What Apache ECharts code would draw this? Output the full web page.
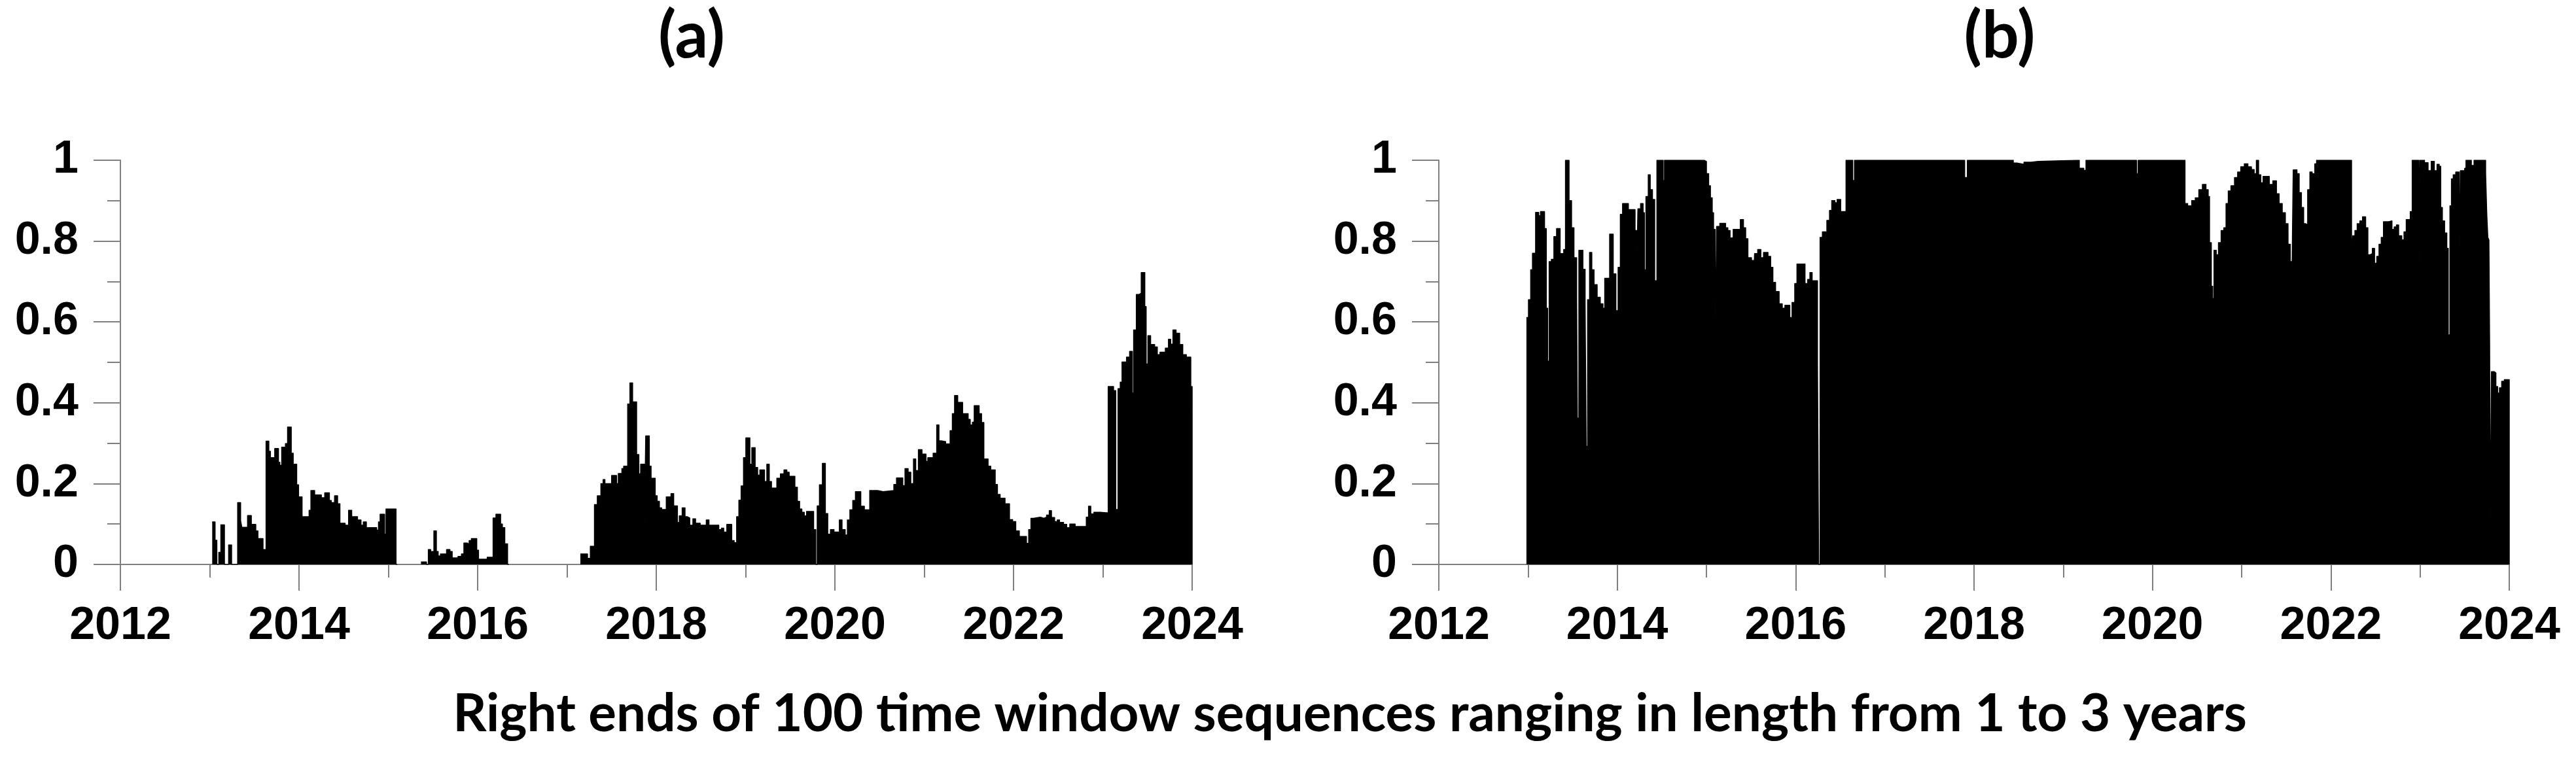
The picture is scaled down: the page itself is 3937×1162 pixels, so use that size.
<!DOCTYPE html>
<html>
<head>
<meta charset="utf-8">
<title>Right ends of time window sequences</title>
<script src="https://cdn.jsdelivr.net/npm/echarts@6/dist/echarts.min.js"></script>
<style>
  html, body { margin: 0; padding: 0; background: #fff; }
  #main { width: 3937px; height: 1162px; }
</style>
</head>
<body>
<div id="main"></div>
<script>
var yearTicks = [2012, 2014, 2016, 2018, 2020, 2022, 2024];
var panelTitles = ['(a)', '(b)'];
var xAxisName = 'Right ends of 100 time window sequences ranging in length from 1 to 3 years';

// panel (a): each value holds from its year up to the next year (null = no data)
var aYears = [
  2013.028, 2013.060, 2013.080, 2013.102, 2013.125, 2013.165, 2013.212, 2013.245, 2013.313, 2013.346,
  2013.360, 2013.424, 2013.466, 2013.516, 2013.540, 2013.597, 2013.631, 2013.662, 2013.680, 2013.728,
  2013.770, 2013.785, 2013.806, 2013.848, 2013.872, 2013.913, 2013.935, 2013.974, 2013.995, 2014.034,
  2014.113, 2014.133, 2014.175, 2014.250, 2014.288, 2014.340, 2014.361, 2014.398, 2014.432, 2014.458,
  2014.516, 2014.555, 2014.590, 2014.655, 2014.694, 2014.720, 2014.754, 2014.869, 2014.890, 2014.908,
  2014.958, 2014.974, 2015.086, 2015.100,
  2015.366, 2015.427, 2015.448, 2015.474, 2015.510, 2015.538, 2015.558, 2015.584, 2015.652, 2015.690,
  2015.715, 2015.780, 2015.819, 2015.846, 2015.885, 2015.905, 2015.930, 2015.990, 2016.010, 2016.107,
  2016.173, 2016.205, 2016.257, 2016.277, 2016.304, 2016.335, 2016.350,
  2017.150, 2017.230, 2017.262, 2017.308, 2017.340, 2017.380, 2017.405, 2017.425, 2017.455, 2017.500,
  2017.556, 2017.575, 2017.615, 2017.635, 2017.680, 2017.705, 2017.735, 2017.780, 2017.805, 2017.825,
  2017.868, 2017.882, 2017.922, 2017.942, 2017.988, 2018.010, 2018.035, 2018.060, 2018.112, 2018.165,
  2018.195, 2018.237, 2018.258, 2018.290, 2018.322, 2018.348, 2018.375, 2018.410, 2018.440, 2018.492,
  2018.560, 2018.590, 2018.700, 2018.730, 2018.755, 2018.790, 2018.845, 2018.872, 2018.900, 2018.925,
  2018.950, 2018.977, 2019.003, 2019.048, 2019.070, 2019.107, 2019.135, 2019.160, 2019.212, 2019.238,
  2019.265, 2019.290, 2019.350, 2019.390, 2019.430, 2019.462, 2019.488, 2019.552, 2019.580, 2019.605,
  2019.630, 2019.657, 2019.683, 2019.762, 2019.786, 2019.802, 2019.827, 2019.860, 2019.893, 2019.920,
  2019.950, 2019.990, 2020.050, 2020.080, 2020.115, 2020.140, 2020.168, 2020.200, 2020.230, 2020.290,
  2020.330, 2020.390, 2020.480, 2020.540, 2020.660, 2020.690, 2020.760, 2020.785, 2020.820, 2020.850,
  2020.880, 2020.905, 2020.935, 2020.975, 2021.020, 2021.040, 2021.100, 2021.140, 2021.165, 2021.190,
  2021.240, 2021.290, 2021.315, 2021.340, 2021.375, 2021.430, 2021.492, 2021.515, 2021.540, 2021.560,
  2021.615, 2021.642, 2021.668, 2021.715, 2021.745, 2021.795, 2021.820, 2021.850, 2021.905, 2021.955,
  2021.990, 2022.025, 2022.065, 2022.145, 2022.170, 2022.195, 2022.222, 2022.300, 2022.340, 2022.370,
  2022.400, 2022.425, 2022.460, 2022.490, 2022.515, 2022.560, 2022.595, 2022.630, 2022.690, 2022.815,
  2022.840, 2022.865, 2022.900, 2022.970, 2023.040, 2023.060, 2023.120, 2023.145, 2023.170, 2023.195,
  2023.215, 2023.265, 2023.300, 2023.330, 2023.345, 2023.375, 2023.405, 2023.430, 2023.470, 2023.485,
  2023.505, 2023.535, 2023.580, 2023.610, 2023.640, 2023.700, 2023.735, 2023.760, 2023.785, 2023.820,
  2023.860, 2023.895, 2023.935, 2023.985, 2024.000
];
var aValues = [
  0.105, 0.060, 0, 0.030, 0.098, 0, 0.048, 0, 0.153, 0.108,
  0.092, 0.121, 0.099, 0.083, 0.064, 0.037, 0.305, 0.280, 0.264, 0.287,
  0.253, 0.245, 0.290, 0.299, 0.340, 0.275, 0.248, 0.197, 0.167, 0.118,
  0.134, 0.183, 0.172, 0.165, 0.177, 0.158, 0.153, 0.170, 0.150, 0.102,
  0.097, 0.134, 0.118, 0.110, 0.097, 0.105, 0.091, 0.085, 0.105, 0.124,
  0.075, 0.137, 0, null,
  0.006, 0, 0.037, 0.032, 0.083, 0.032, 0.021, 0.026, 0.037, 0.032,
  0.016, 0.020, 0.026, 0.053, 0.050, 0.059, 0.064, 0.035, 0.013, 0.018,
  0.115, 0.124, 0.100, 0.091, 0.051, 0, null,
  0.026, 0.015, 0.045, 0.148, 0.170, 0.200, 0.210, 0.200, 0.200, 0.220,
  0.200, 0.225, 0.237, 0.243, 0.397, 0.449, 0.402, 0.272, 0.224, 0.248,
  0.086, 0.318, 0.243, 0.213, 0.170, 0.156, 0.140, 0.136, 0.167, 0.175,
  0.145, 0.104, 0.120, 0.140, 0.118, 0.115, 0.097, 0.113, 0.102, 0.097,
  0.110, 0.097, 0.086, 0.090, 0.080, 0.099, 0.059, 0.054, 0.118, 0.159,
  0.194, 0.264, 0.313, 0.248, 0.289, 0.240, 0.221, 0.234, 0.205, 0.248,
  0.205, 0.189, 0.213, 0.224, 0.234, 0.228, 0.218, 0.191, 0.156, 0.137,
  0.129, 0.120, 0.131, 0.086, 0, 0.145, 0.197, 0.250, 0.126, 0.075,
  0.086, 0.080, 0.110, 0.086, 0.073, 0.110, 0.135, 0.158, 0.180, 0.144,
  0.135, 0.183, 0.180, 0.183, 0.198, 0.214, 0.195, 0.237, 0.228, 0.200,
  0.261, 0.232, 0.284, 0.273, 0.255, 0.264, 0.275, 0.345, 0.306, 0.304,
  0.298, 0.331, 0.373, 0.418, 0.401, 0.373, 0.359, 0.345, 0.352, 0.393,
  0.373, 0.351, 0.261, 0.243, 0.234, 0.198, 0.173, 0.164, 0.150, 0.111,
  0.106, 0.083, 0.069, 0.052, 0.086, 0.114, 0.117, 0.114, 0.117, 0.122,
  0.133, 0.116, 0.106, 0.110, 0.104, 0.099, 0.091, 0.100, 0.094, 0.117,
  0.144, 0.125, 0.129, 0.128, 0.128, 0.440, 0.430, 0.136, 0.435, 0.451,
  0.501, 0.513, 0.527, 0.424, 0.580, 0.668, 0.671, 0.722, 0.638, 0.496,
  0.566, 0.544, 0.538, 0.519, 0.525, 0.535, 0.557, 0.545, 0.580, 0.572,
  0.544, 0.519, 0.513, 0.440, 0
];

// panel (b)
var bYears = [
  2012.982, 2013.005, 2013.030, 2013.050, 2013.085, 2013.120, 2013.140, 2013.185, 2013.205, 2013.220,
  2013.237, 2013.262, 2013.290, 2013.320, 2013.360, 2013.400, 2013.420, 2013.460, 2013.488, 2013.515,
  2013.545, 2013.553, 2013.570, 2013.615, 2013.640, 2013.652, 2013.668, 2013.690, 2013.715, 2013.740,
  2013.775, 2013.810, 2013.840, 2013.860, 2013.915, 2013.955, 2013.985, 2014.010, 2014.035, 2014.060,
  2014.125, 2014.200, 2014.218, 2014.232, 2014.262, 2014.290, 2014.305, 2014.322, 2014.348, 2014.370,
  2014.395, 2014.420, 2014.445, 2014.515, 2014.530, 2014.975, 2015.000, 2015.025, 2015.045, 2015.065,
  2015.080, 2015.098, 2015.104, 2015.114, 2015.150, 2015.215, 2015.240, 2015.265, 2015.300, 2015.380,
  2015.415, 2015.440, 2015.465, 2015.505, 2015.528, 2015.540, 2015.575, 2015.610, 2015.640, 2015.690,
  2015.720, 2015.745, 2015.775, 2015.815, 2015.850, 2015.880, 2015.935, 2015.960, 2015.990, 2016.015,
  2016.105, 2016.135, 2016.160, 2016.185, 2016.245, 2016.258, 2016.274, 2016.300, 2016.350, 2016.380,
  2016.405, 2016.440, 2016.465, 2016.505, 2016.565, 2016.640, 2016.660, 2017.895, 2017.925, 2018.440,
  2018.480, 2018.560, 2018.640, 2018.720, 2019.180, 2019.230, 2019.255, 2019.822, 2019.840, 2020.365,
  2020.395, 2020.440, 2020.480, 2020.520, 2020.560, 2020.600, 2020.625, 2020.640, 2020.660, 2020.675,
  2020.690, 2020.715, 2020.740, 2020.770, 2020.800, 2020.825, 2020.850, 2020.880, 2020.920, 2020.955,
  2020.990, 2021.030, 2021.070, 2021.110, 2021.140, 2021.165, 2021.190, 2021.215, 2021.240, 2021.310,
  2021.350, 2021.390, 2021.420, 2021.455, 2021.490, 2021.520, 2021.545, 2021.565, 2021.578, 2021.620,
  2021.645, 2021.670, 2021.695, 2021.720, 2021.740, 2021.765, 2021.790, 2021.820, 2021.840, 2022.232,
  2022.245, 2022.270, 2022.295, 2022.325, 2022.355, 2022.390, 2022.415, 2022.440, 2022.465, 2022.490,
  2022.515, 2022.540, 2022.565, 2022.590, 2022.650, 2022.685, 2022.710, 2022.735, 2022.760, 2022.795,
  2022.820, 2022.845, 2022.890, 2022.912, 2022.986, 2022.998, 2023.050, 2023.090, 2023.125, 2023.160,
  2023.190, 2023.215, 2023.232, 2023.250, 2023.275, 2023.300, 2023.316, 2023.335, 2023.352, 2023.372,
  2023.400, 2023.438, 2023.452, 2023.500, 2023.515, 2023.575, 2023.605, 2023.735, 2023.748, 2023.760,
  2023.772, 2023.780, 2023.786, 2023.800, 2023.830, 2023.850, 2023.870, 2023.890, 2023.915, 2023.945,
  2024.000
];
var bValues = [
  0.611, 0.655, 0.729, 0.770, 0.871, 0.863, 0.873, 0.831, 0.634, 0.503,
  0.749, 0.755, 0.811, 0.831, 0.769, 0.779, 1.000, 0.900, 0.833, 0.759,
  0.658, 0.362, 0.777, 0.730, 0.648, 0.292, 0.655, 0.772, 0.729, 0.692,
  0.661, 0.645, 0.634, 0.708, 0.817, 0.719, 0.628, 0.735, 0.866, 0.893,
  0.878, 0.826, 0.725, 0.880, 0.893, 0.870, 0.729, 0.910, 0.964, 0.927,
  0.903, 0.702, 1.000, 0.950, 1.000, 0.997, 0.967, 0.937, 0.907, 0.870,
  0.829, 0.782, 0.547, 0.836, 0.844, 0.833, 0.826, 0.808, 0.829, 0.853,
  0.833, 0.806, 0.759, 0.752, 0.700, 0.769, 0.779, 0.759, 0.772, 0.762,
  0.735, 0.698, 0.675, 0.645, 0.634, 0.641, 0.611, 0.648, 0.695, 0.743,
  0.695, 0.705, 0.722, 0.702, 0.497, 0, 0.809, 0.823, 0.851, 0.876,
  0.900, 0.895, 0.903, 0.873, 1.000, 0.950, 1.000, 0.957, 1.000, 0.993,
  0.990, 0.995, 0.997, 1.000, 0.980, 0.975, 1.000, 0.967, 1.000, 0.893,
  0.887, 0.900, 0.907, 0.927, 0.940, 0.927, 0.910, 0.796, 0.688, 0.658,
  0.777, 0.766, 0.796, 0.826, 0.833, 0.893, 0.924, 0.937, 0.957, 0.971,
  0.984, 0.991, 0.984, 0.977, 0.967, 1.000, 0.964, 0.944, 0.960, 0.940,
  0.949, 0.917, 0.893, 0.870, 0.843, 0.792, 0.749, 0.729, 0.976, 0.967,
  0.920, 0.883, 0.843, 0.840, 0.927, 0.971, 0.967, 0.991, 1.000, 0.755,
  0.813, 0.826, 0.843, 0.850, 0.860, 0.833, 0.766, 0.769, 0.782, 0.745,
  0.762, 0.792, 0.809, 0.848, 0.850, 0.829, 0.835, 0.840, 0.813, 0.803,
  0.823, 0.853, 0.873, 1.000, 0.695, 1.000, 0.994, 0.974, 0.997, 0.974,
  0.990, 0.985, 0.883, 0.850, 0.820, 0.782, 0.568, 0.887, 0.954, 0.964,
  0.971, 0.682, 0.974, 0.980, 1.000, 0.987, 1.000, 0.967, 0.867, 0.809,
  0.803, 0.547, 0.064, 0.477, 0.474, 0.440, 0.424, 0.437, 0.453, 0.457,
  0
];

var axisGrey = '#7f7f7f';
var labelFont = { fontFamily: 'Liberation Sans', fontWeight: 'bold', fontSize: 70, color: '#000' };

function pairUp(years, values) {
  var out = [];
  for (var i = 0; i < years.length; i++) {
    out.push([years[i], values[i] === null ? '-' : values[i]]);
  }
  return out;
}

function makeXAxis(idx) {
  return {
    type: 'value', gridIndex: idx,
    min: yearTicks[0], max: yearTicks[yearTicks.length - 1], interval: 2,
    axisLine: { show: true, onZero: false, lineStyle: { color: axisGrey, width: 2 } },
    axisTick: { show: true, length: 40, lineStyle: { color: axisGrey, width: 2 } },
    minorTick: { show: true, splitNumber: 2, length: 20, lineStyle: { color: axisGrey, width: 2 } },
    splitLine: { show: false },
    axisLabel: Object.assign({ margin: 60, formatter: function (v) { return String(Math.round(v)); } }, labelFont)
  };
}

function makeYAxis(idx) {
  return {
    type: 'value', gridIndex: idx, min: 0, max: 1, interval: 0.2,
    axisLine: { show: true, onZero: false, lineStyle: { color: axisGrey, width: 2 } },
    axisTick: { show: true, length: 41, lineStyle: { color: axisGrey, width: 2 } },
    minorTick: { show: true, splitNumber: 2, length: 20, lineStyle: { color: axisGrey, width: 2 } },
    splitLine: { show: false },
    axisLabel: Object.assign({ margin: 64 }, labelFont)
  };
}

function makeSeries(idx, data) {
  return {
    type: 'line', xAxisIndex: idx, yAxisIndex: idx,
    data: data, step: 'end', connectNulls: false,
    symbol: 'none', showSymbol: false, silent: true,
    lineStyle: { color: '#000', width: 1.5, join: 'round' },
    areaStyle: { color: '#000', opacity: 1 },
    z: 3
  };
}

var titleStyle = { fontFamily: 'Lato', fontWeight: 'bold', fontSize: 100, fill: '#000', align: 'center', verticalAlign: 'middle' };

var option = {
  animation: false,
  backgroundColor: '#fff',
  grid: [
    { left: 184, top: 245, width: 1638, height: 618, containLabel: false, outerBoundsMode: 'none' },
    { left: 2199, top: 245, width: 1636, height: 618, containLabel: false, outerBoundsMode: 'none' }
  ],
  xAxis: [makeXAxis(0), makeXAxis(1)],
  yAxis: [makeYAxis(0), makeYAxis(1)],
  series: [
    makeSeries(0, pairUp(aYears, aValues)),
    makeSeries(1, pairUp(bYears, bValues))
  ],
  graphic: [
    { type: 'text', x: 1057, y: 56, style: Object.assign({ text: panelTitles[0] }, titleStyle) },
    { type: 'text', x: 3056, y: 56, style: Object.assign({ text: panelTitles[1] }, titleStyle) },
    { type: 'text', x: 2063, y: 1092, style: { text: xAxisName, fontFamily: 'Lato', fontWeight: 'bold', fontSize: 80, fill: '#000', align: 'center', verticalAlign: 'middle' } }
  ]
};

var chart = echarts.init(document.getElementById('main'), null, { renderer: 'canvas' });
chart.setOption(option);
</script>
</body>
</html>
